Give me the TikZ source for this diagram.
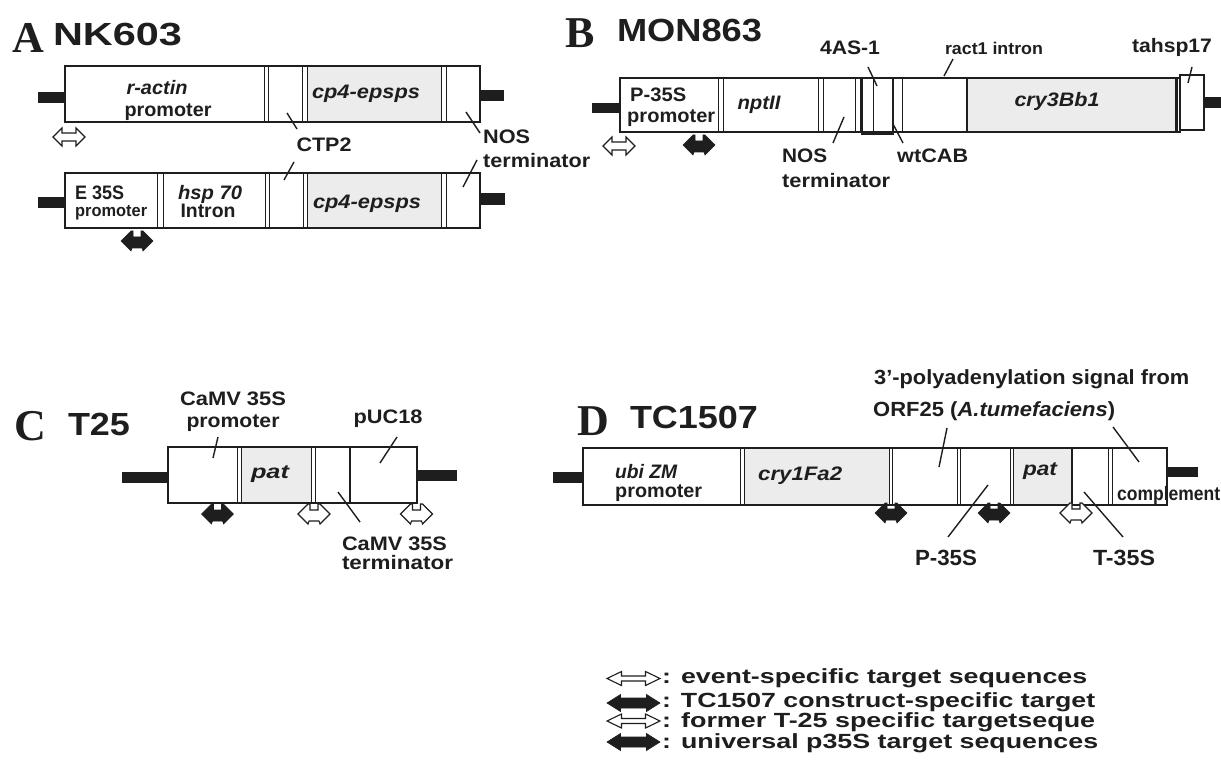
\documentclass[tikz,border=0pt]{standalone}
\usepackage{fontspec}
\usepackage{graphicx}
\setmainfont{Liberation Sans}
\newfontfamily\serifbf{Liberation Serif}
\newcommand\fitw[2]{\resizebox{#1pt}{\height}{#2}}
\definecolor{ink}{HTML}{1E1E1E}
\definecolor{stip}{HTML}{ECECEC}
\tikzset{
  plainarrow/.pic={\path[pic actions] (-16,0) -- (-7,-9) -- (-7,-4) -- (7,-4) -- (7,-9) -- (16,0) -- (7,9) -- (7,4) -- (-7,4) -- (-7,9) -- cycle;},
  notcharrow/.pic={\path[pic actions] (-16,0) -- (-6,-10) -- (-4,-10) -- (-4,-4) -- (4,-4) -- (4,-10) -- (6,-10) -- (16,0) -- (6,10) -- (5,7) -- (-5,7) -- (-6,10) -- cycle;},
  legwhite/.pic={\path[pic actions] (-26.5,0) -- (-12,-7) -- (-12,-2.5) -- (12,-2.5) -- (12,-7) -- (26.5,0) -- (12,7) -- (12,2.5) -- (-12,2.5) -- (-12,7) -- cycle;},
  legblack/.pic={\path[pic actions] (-26.5,0) -- (-13,-8.5) -- (-13,-5) -- (13,-5) -- (13,-8.5) -- (26.5,0) -- (13,8.5) -- (13,5) -- (-13,5) -- (-13,8.5) -- cycle;},
}
\begin{document}
\begin{tikzpicture}[x=1pt,y=-1pt,
  box/.style={draw=ink, line width=1.4pt},
  div/.style={draw=ink, line width=0.9pt},
  lead/.style={draw=ink, line width=1.4pt},
  bar/.style={fill=ink},
  wa/.style={draw=ink, fill=white, line width=1.1pt},
  ba/.style={fill=ink, draw=ink, line width=0.6pt},
  lab/.style={inner sep=0pt, text=ink, anchor=base, font=\fontsize{19.5}{19.5}\selectfont\bfseries},
  labs/.style={lab, font=\fontsize{17}{17}\selectfont\bfseries},
  labl/.style={lab, font=\fontsize{20.5}{20.5}\selectfont\bfseries},
  labxl/.style={lab, font=\fontsize{22}{22}\selectfont\bfseries},
  leg/.style={lab, anchor=base west, font=\fontsize{20.5}{20.5}\selectfont\bfseries},
  big/.style={lab, font=\fontsize{32}{32}\selectfont\bfseries},
  letter/.style={inner sep=0pt, text=ink, anchor=base, font=\fontsize{44}{44}\selectfont\serifbf\bfseries},
  lw/.style={anchor=base west}]
\fill[white] (0,0) rectangle (1221,770);
\useasboundingbox (0,0) rectangle (1221,770);

% ---------- Panel A ----------
\fill[bar] (38,92) rectangle (65,103);
\fill[bar] (480,90) rectangle (504,101);
\fill[stip] (307,66) rectangle (441,122);
\draw[box] (65,66) rectangle (480,122);
\foreach \x in {264,268,302,307,441,446} \draw[div] (\x,66) -- (\x,122);

\fill[bar] (38,197) rectangle (65,208);
\fill[bar] (480,193) rectangle (505,205);
\fill[stip] (307,173) rectangle (441,228);
\draw[box] (65,173) rectangle (480,228);
\foreach \x in {157,163,265,269,303,307,441,446} \draw[div] (\x,173) -- (\x,228);

\draw[lead] (287,113) -- (297,129);
\draw[lead] (294,162) -- (284,180);
\draw[lead] (466,112) -- (480,133);
\draw[lead] (477,160) -- (463,187);

\pic[wa] at (69,137) {plainarrow};
\pic[ba] at (137,241) {notcharrow};

\node[letter] (tA) at (28.5,53) {A};
\node[big] (nk) at (117.5,46) {\fitw{129}{NK603}};
\node[lab] (ract) at (157,95) {\fitw{61}{\itshape r-actin}};
\node[lab] (prA1) at (168,117) {\fitw{87}{promoter}};
\node[lab] (cp1) at (366,99) {\fitw{108}{\itshape cp4-epsps}};
\node[lab] (ctp) at (324,152) {\fitw{55}{CTP2}};
\node[lab, lw] (nos1) at (483,144) {\fitw{47}{NOS}};
\node[lab, lw] (term1) at (483,168) {\fitw{107}{terminator}};
\node[lab, lw] (e35) at (75,200) {\fitw{49}{E 35S}};
\node[labs, lw] (prA2) at (75,217) {\fitw{72}{promoter}};
\node[lab] (hsp) at (210,200) {\fitw{64}{\itshape hsp 70}};
\node[lab] (intr) at (208,218) {\fitw{55}{Intron}};
\node[lab] (cp2) at (367,208) {\fitw{108}{\itshape cp4-epsps}};

% ---------- Panel B ----------
\fill[bar] (592,103) rectangle (620,113);
\fill[bar] (1204,97) rectangle (1230,108);
\fill[stip] (967,78) rectangle (1175,132);
\draw[box] (620,78) rectangle (1180,132);
\draw[box] (862,78) rectangle (893,134);
\draw[box] (1180,75) rectangle (1204,130);
\foreach \x in {718,723,818,823,855,860,873,902} \draw[div] (\x,78) -- (\x,132);
\draw[box] (967,78) -- (967,132);
\draw[ink, line width=2.5pt] (1176.5,78) -- (1176.5,132);

\draw[lead] (868,67) -- (877,86);
\draw[lead] (953,59) -- (944,76);
\draw[lead] (1192,67) -- (1188,83);
\draw[lead] (844,117) -- (833,143);
\draw[lead] (893,124) -- (903,143);

\pic[wa] at (619,146) {plainarrow};
\pic[ba] at (699,145) {notcharrow};

\node[letter] (tB) at (580,48) {B};
\node[big] (mon) at (689.5,42) {\fitw{145}{MON863}};
\node[lab, lw] (p35b) at (630,102) {\fitw{56}{P-35S}};
\node[lab, lw] (prB) at (627,123) {\fitw{88}{promoter}};
\node[lab] (npt) at (759,110) {\fitw{43}{\itshape nptII}};
\node[lab] (as1) at (850,55) {\fitw{60}{4AS-1}};
\node[labs] (ract1) at (994,55) {\fitw{98}{ract1 intron}};
\node[lab] (tah) at (1172,53) {\fitw{80}{tahsp17}};
\node[lab] (cry3) at (1057,107) {\fitw{85}{\itshape cry3Bb1}};
\node[lab, lw] (nos2) at (782,163) {\fitw{45}{NOS}};
\node[lab, lw] (term2) at (782,188) {\fitw{108}{terminator}};
\node[lab, lw] (wtcab) at (897,163) {\fitw{71}{wtCAB}};

% ---------- Panel C ----------
\fill[bar] (122,472) rectangle (168,483);
\fill[bar] (417,470) rectangle (457,481);
\fill[stip] (241,447) rectangle (311,503);
\draw[box] (168,447) rectangle (417,503);
\foreach \x in {237,241,311,315} \draw[div] (\x,447) -- (\x,503);
\draw[box] (350,447) -- (350,503);

\draw[lead] (218,437) -- (213,458);
\draw[lead] (397,437) -- (380,463);
\draw[lead] (338,492) -- (360,522);

\pic[ba] at (217.5,514) {notcharrow};
\pic[wa] at (314,514) {notcharrow};
\pic[wa] at (416.5,514) {notcharrow};

\node[letter] (tC) at (30,440) {C};
\node[big] (t25) at (99,435) {\fitw{62}{T25}};
\node[lab] (camv1) at (233,405) {\fitw{106}{CaMV 35S}};
\node[lab] (prC) at (233,427) {\fitw{93}{promoter}};
\node[lab] (patC) at (270,478) {\fitw{38}{\itshape pat}};
\node[lab] (puc) at (388,423) {\fitw{69}{pUC18}};
\node[lab] (camv2) at (394.5,550) {\fitw{105}{CaMV 35S}};
\node[lab] (termC) at (397.5,569) {\fitw{111}{terminator}};

% ---------- Panel D ----------
\fill[bar] (553,472) rectangle (583,483);
\fill[bar] (1167,467) rectangle (1198,477);
\fill[stip] (744,448) rectangle (889,505);
\fill[stip] (1013,448) rectangle (1072,505);
\draw[box] (583,448) rectangle (1167,505);
\foreach \x in {740,744,889,892,957,960,1010,1013,1108,1112} \draw[div] (\x,448) -- (\x,505);
\draw[box] (1072,448) -- (1072,505);

\draw[lead] (947,428) -- (939,467);
\draw[lead] (1113,427) -- (1139,462);
\draw[lead] (988,485) -- (948,537);
\draw[lead] (1084,492) -- (1123,537);

\pic[ba] at (891,513) {notcharrow};
\pic[ba] at (994,513) {notcharrow};
\pic[wa] at (1076,513) {notcharrow};

\node[letter] (tD) at (593.5,435) {D};
\node[big] (tc) at (694,428) {\fitw{128}{TC1507}};
\node[lab, lw] (ubi) at (615,478) {\fitw{62}{\itshape ubi ZM}};
\node[lab, lw] (prD) at (615,497) {\fitw{87}{promoter}};
\node[lab, lw] (cry1) at (758,480) {\fitw{84}{\itshape cry1Fa2}};
\node[lab] (patD) at (1040,475) {\fitw{34}{\itshape pat}};
\node[lab, lw] (comp) at (1117,500) {\fitw{103}{complement}};
\node[labl, lw] (poly) at (874,384) {\fitw{315}{3’-polyadenylation signal from}};
\node[labl, lw] (orf) at (873,416) {\fitw{242}{ORF25 (\textit{A.tumefaciens})}};
\node[labxl] (p35d) at (946,565) {\fitw{62}{P-35S}};
\node[labxl] (t35d) at (1124,565) {\fitw{62}{T-35S}};

% ---------- Legend ----------
\pic[wa] at (633.5,678.5) {legwhite};
\pic[ba] at (633.5,703) {legblack};
\pic[wa] at (633.5,721) {legwhite};
\pic[ba] at (633.5,742) {legblack};
\node[leg] (l1) at (662,683) {\fitw{425}{: event-specific target sequences}};
\node[leg] (l2) at (662,707) {\fitw{433}{: TC1507 construct-specific target}};
\node[leg] (l3) at (662,727) {\fitw{433}{: former T-25 specific targetseque}};
\node[leg] (l4) at (662,748) {\fitw{436}{: universal p35S target sequences}};
\end{tikzpicture}
\end{document}
